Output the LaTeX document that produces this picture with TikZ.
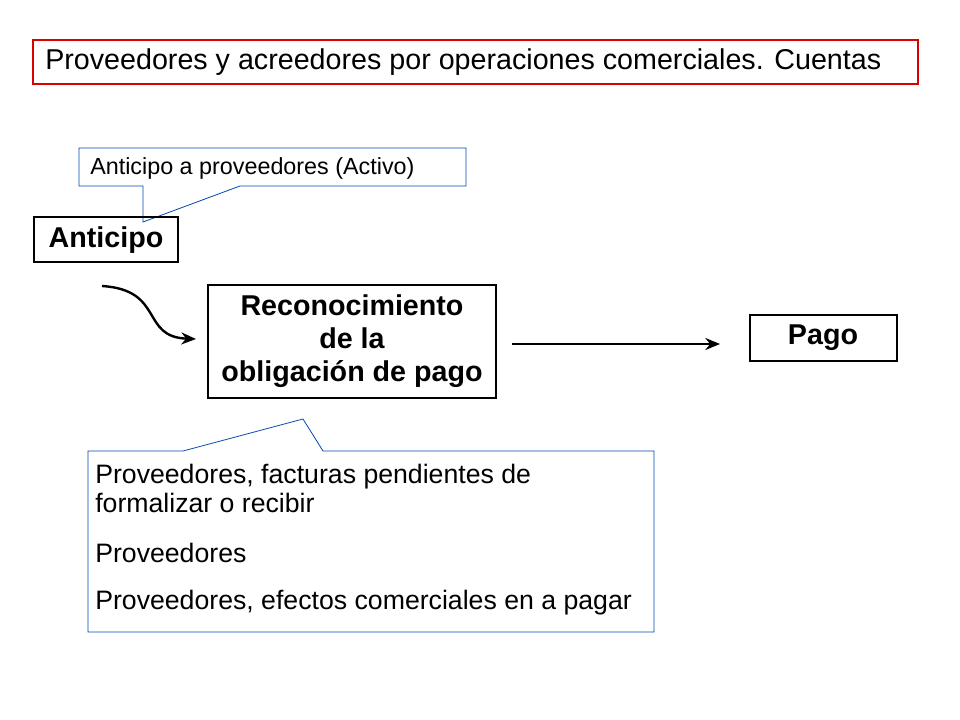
\documentclass[tikz,border=0pt]{standalone}
\usepackage{fontspec}
\setmainfont{Liberation Sans}
\usetikzlibrary{arrows.meta}
\begin{document}
\begin{tikzpicture}[x=0.75pt,y=-0.75pt,
  callout/.style={draw=blue!60!cyan!70!black,line width=0.6pt},
  bx/.style={line width=2.2pt},
  bt/.style={font=\fontsize{21.5}{24.5}\selectfont\bfseries,align=center,inner sep=0pt},
  arr/.style={line width=1.8pt,-{Stealth[length=11pt,width=9pt]}}]
\useasboundingbox (0,0) rectangle (960,720);
\draw[red!85!black,line width=1.2pt] (33,40) rectangle (918,84);
\node[anchor=west,font=\fontsize{21.5}{24}\selectfont,inner sep=0pt] (title) at (45,62) {Proveedores y acreedores por operaciones comerciales. Cuentas};
% callout 1
\draw[callout] (143,186) -- (79,186) -- (79,148) -- (466,148) -- (466,186) -- (240,186) -- (143,222) -- cycle;
\node[anchor=west,font=\fontsize{17.5}{19}\selectfont,inner sep=0pt] (c1) at (90,168) {Anticipo a proveedores (Activo)};
% boxes
\draw[bx] (34,217) rectangle (178,262);
\node[bt] (ant) at (106,240) {Anticipo};
\draw[bx] (208,285) rectangle (496,398);
\node[bt] (rec) at (352,341) {Reconocimiento\\de la\\obligación de pago};
\draw[bx] (750,315) rectangle (897,361);
\node[bt] (pago) at (823,338) {Pago};
\coordinate (a1) at (102,286);
\coordinate (a2) at (196,339);
\coordinate (b1) at (512,344);
\coordinate (b2) at (720,344);
\draw[arr] (a1) .. controls (165,290) and (140,337) .. (a2);
\draw[arr] (b1) -- (b2);
% callout 2
\draw[callout] (183,451) -- (88,451) -- (88,632) -- (654,632) -- (654,451) -- (323,451) -- (303,419) -- cycle;
\begin{scope}[every node/.style={anchor=west,font=\fontsize{20}{24}\selectfont,inner sep=0pt}]
\node (l1) at (95,477) {Proveedores, facturas pendientes de};
\node (l2) at (95,503) {formalizar o recibir};
\node (l3) at (95,553) {Proveedores};
\node (l4) at (95,603) {Proveedores, efectos comerciales en a pagar};
\end{scope}
\end{tikzpicture}
\end{document}
